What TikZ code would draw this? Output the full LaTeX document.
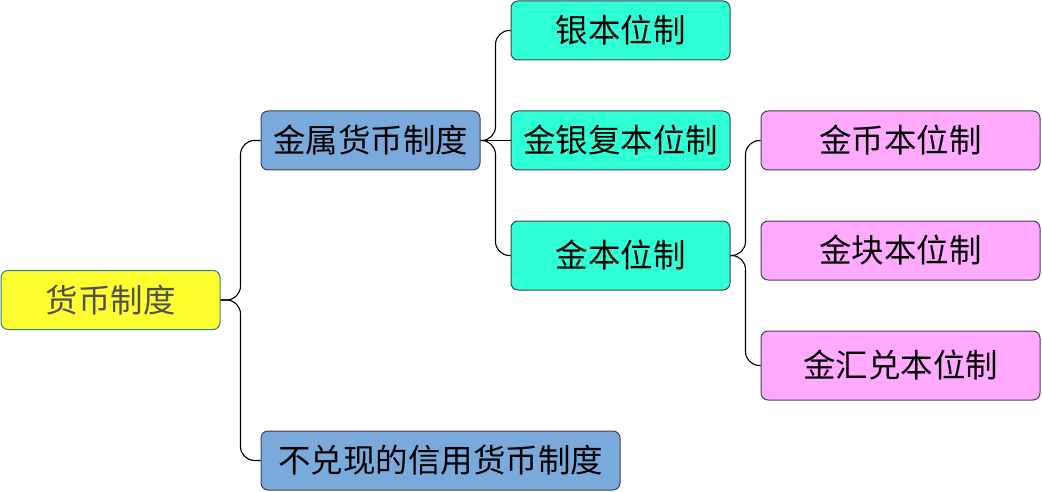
\documentclass[tikz,border=0pt]{standalone}
\usepackage{fontspec}
\newfontfamily\cjk{Noto Sans CJK SC}
\usetikzlibrary{calc}
\definecolor{cyel}{HTML}{FFFF30}
\definecolor{cblue}{HTML}{7AAADB}
\definecolor{cturq}{HTML}{2EFFD5}
\definecolor{cpink}{HTML}{FFAAFF}
\definecolor{cteal}{HTML}{2A8080}
\definecolor{cedge}{HTML}{404050}
\definecolor{cgray}{HTML}{505050}
\tikzset{
  box/.style={draw=cedge, line width=1pt, rounded corners=7pt, inner sep=0pt,
    font=\cjk\fontsize{32.5}{32.5}\selectfont},
  link/.style={draw=black, line width=1.1pt, rounded corners=14pt}
}
\begin{document}
\begin{tikzpicture}[x=1pt,y=-1pt]
\useasboundingbox (0,0) rectangle (1042,492);
\node[box, draw=cteal, fill=cyel, text=cgray, minimum width=219, minimum height=59] (root) at (110.5,300) {货币制度};
\node[box, fill=cblue, minimum width=219, minimum height=59] (metal) at (370.5,140.5) {金属货币制度};
\node[box, fill=cblue, minimum width=359, minimum height=59] (credit) at (440.5,460.5) {不兑现的信用货币制度};
\node[box, fill=cturq, minimum width=219, minimum height=59] (silver) at (620.5,30.5) {银本位制};
\node[box, fill=cturq, minimum width=219, minimum height=59] (bimetal) at (620.5,140.5) {金银复本位制};
\node[box, fill=cturq, minimum width=219, minimum height=69] (gold) at (620.5,255.5) {金本位制};
\node[box, fill=cpink, minimum width=279, minimum height=59] (coin) at (900.5,140.5) {金币本位制};
\node[box, fill=cpink, minimum width=279, minimum height=59] (bullion) at (900.5,250.5) {金块本位制};
\node[box, fill=cpink, minimum width=279, minimum height=69] (exchange) at (900.5,365.5) {金汇兑本位制};

\draw[link] (root.east) -| ($(root.east)!0.5!(metal.west)$) |- (metal.west);
\draw[link] (root.east) -| ($(root.east)!0.5!(credit.west)$) |- (credit.west);
\draw[link] (metal.east) -| ($(metal.east)!0.5!(silver.west)$) |- (silver.west);
\draw[link] (metal.east) -- (bimetal.west);
\draw[link] (metal.east) -| ($(metal.east)!0.5!(gold.west)$) |- (gold.west);
\draw[link] (gold.east) -| ($(gold.east)!0.5!(coin.west)$) |- (coin.west);
\draw[link] (gold.east) -| ($(gold.east)!0.5!(exchange.west)$) |- (exchange.west);
\end{tikzpicture}
\end{document}
